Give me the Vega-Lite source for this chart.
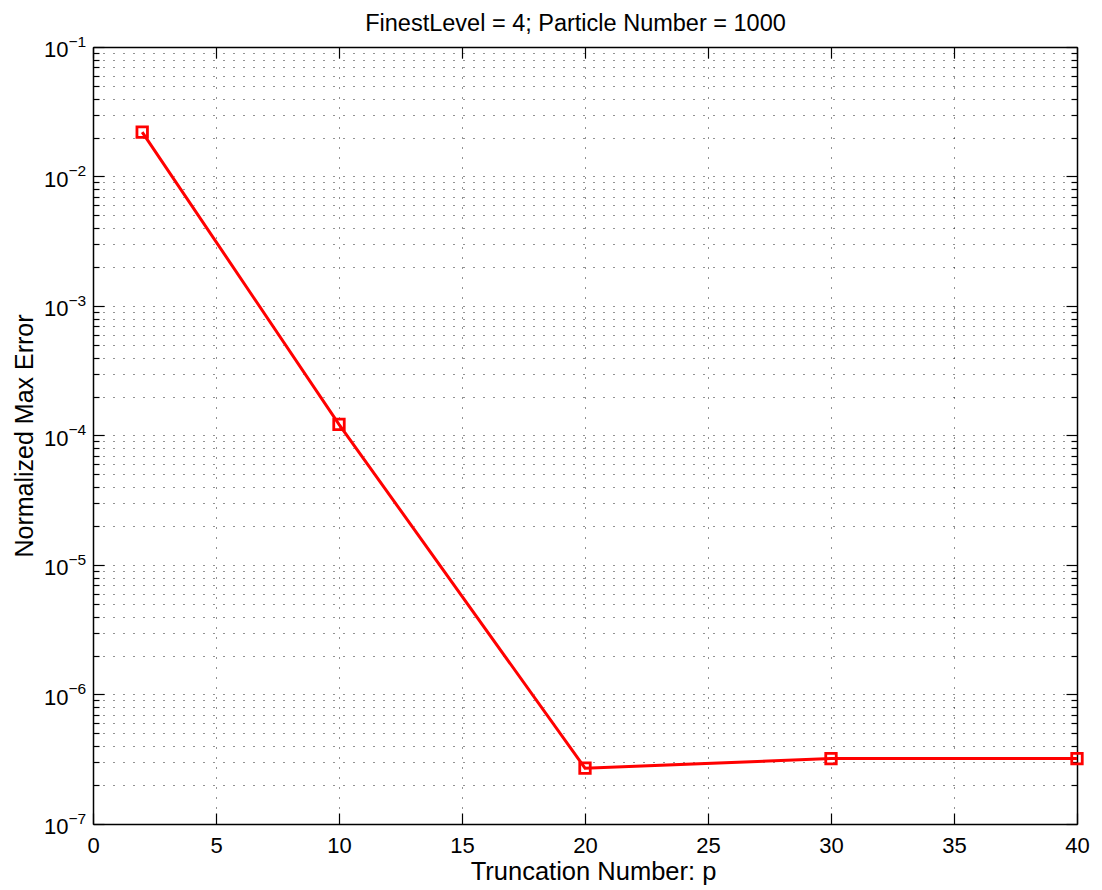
{
  "$schema": "https://vega.github.io/schema/vega-lite/v6.json",
  "autosize": "none",
  "padding": {"left": 93, "top": 47, "right": 25, "bottom": 66},
  "width": 984,
  "height": 777,
  "background": "white",
  "config": {
    "view": {"stroke": null},
    "font": "Liberation Sans",
    "axis": {
      "labelFont": "Liberation Sans",
      "titleFont": "Liberation Sans",
      "labelColor": "#000",
      "titleColor": "#000",
      "titleFontWeight": "normal",
      "domainColor": "#000",
      "domainWidth": 1.5,
      "tickColor": "#000",
      "tickWidth": 1.2,
      "gridColor": "#000",
      "gridDash": [1, 9],
      "gridWidth": 1,
      "gridOpacity": 0.85,
      "labelFlush": false,
      "labelOverlap": false,
      "labelBound": false,
      "labelFontSize": 22
    }
  },
  "data": {
    "values": [
      {"p": 2, "err": 0.022},
      {"p": 10, "err": 0.000122},
      {"p": 20, "err": 2.7e-7},
      {"p": 30, "err": 3.2e-7},
      {"p": 40, "err": 3.2e-7}
    ]
  },
  "resolve": {"axis": {"x": "independent", "y": "independent"}},
  "layer": [
    {
      "mark": {"type": "line", "color": "#ff0000", "strokeWidth": 3, "clip": false},
      "encoding": {
        "x": {
          "field": "p", "type": "quantitative",
          "scale": {"domain": [0, 40], "nice": false, "zero": false},
          "axis": {
            "orient": "bottom",
            "values": [0, 5, 10, 15, 20, 25, 30, 35, 40],
            "format": "d",
            "ticks": false, "grid": true, "domain": true,
            "labelFontSize": 22,
            "labelPadding": 11,
            "title": "Truncation Number: p",
            "titleFontSize": 25.5,
            "titleX": 500,
            "titlePadding": 3
          }
        },
        "y": {
          "field": "err", "type": "quantitative",
          "scale": {"type": "log", "domain": [1e-7, 0.1], "nice": false},
          "axis": {
            "orient": "left",
            "values": [1e-7, 2e-7, 3e-7, 4e-7, 5e-7, 6e-7, 7e-7, 8e-7, 9e-7,
                       1e-6, 2e-6, 3e-6, 4e-6, 5e-6, 6e-6, 7e-6, 8e-6, 9e-6,
                       1e-5, 2e-5, 3e-5, 4e-5, 5e-5, 6e-5, 7e-5, 8e-5, 9e-5,
                       1e-4, 2e-4, 3e-4, 4e-4, 5e-4, 6e-4, 7e-4, 8e-4, 9e-4,
                       0.001, 0.002, 0.003, 0.004, 0.005, 0.006, 0.007, 0.008, 0.009,
                       0.01, 0.02, 0.03, 0.04, 0.05, 0.06, 0.07, 0.08, 0.09, 0.1],
            "labelExpr": "abs(log(datum.value)/LN10 - round(log(datum.value)/LN10)) < 1e-6 ? '10' : ''",
            "ticks": false, "grid": true, "domain": true,
            "labelFontSize": 22,
            "labelPadding": 25,
            "labelOffset": 2.5,
            "title": "Normalized Max Error",
            "titleFontSize": 25,
            "titlePadding": 6
          }
        }
      }
    },
    {
      "mark": {"type": "point", "shape": "square", "filled": false, "color": "#ff0000", "strokeWidth": 2.8, "size": 110, "opacity": 1, "clip": false},
      "encoding": {
        "x": {
          "field": "p", "type": "quantitative",
          "scale": {"domain": [0, 40], "nice": false, "zero": false},
          "axis": {
            "orient": "bottom",
            "values": [0, 5, 10, 15, 20, 25, 30, 35, 40],
            "labels": false, "grid": false, "domain": false,
            "ticks": true, "tickSize": -11,
            "title": null
          }
        },
        "y": {
          "field": "err", "type": "quantitative",
          "scale": {"type": "log", "domain": [1e-7, 0.1], "nice": false},
          "axis": {
            "orient": "left",
            "values": [1e-7, 1e-6, 1e-5, 1e-4, 0.001, 0.01, 0.1],
            "labelExpr": "'−' + abs(round(log(datum.value)/LN10))",
            "ticks": false, "grid": false, "domain": false,
            "labelAlign": "left",
            "labelPadding": 25,
            "labelFontSize": 15.5,
            "labelOffset": -5.6,
            "title": null
          }
        }
      }
    },
    {
      "mark": {"type": "point", "opacity": 0},
      "encoding": {
        "x": {
          "field": "p", "type": "quantitative",
          "scale": {"domain": [0, 40], "nice": false, "zero": false},
          "axis": {
            "orient": "top",
            "values": [0, 5, 10, 15, 20, 25, 30, 35, 40],
            "labels": false, "grid": false, "domain": true,
            "ticks": true, "tickSize": -11,
            "title": "FinestLevel = 4; Particle Number = 1000",
            "titleFontSize": 23.5,
            "titleX": 482,
            "titleY": -17,
            "titleBaseline": "alphabetic",
            "titleAlign": "center"
          }
        },
        "y": {
          "field": "err", "type": "quantitative",
          "scale": {"type": "log", "domain": [1e-7, 0.1], "nice": false},
          "axis": {
            "orient": "left",
            "values": [1e-7, 2e-7, 3e-7, 4e-7, 5e-7, 6e-7, 7e-7, 8e-7, 9e-7,
                       1e-6, 2e-6, 3e-6, 4e-6, 5e-6, 6e-6, 7e-6, 8e-6, 9e-6,
                       1e-5, 2e-5, 3e-5, 4e-5, 5e-5, 6e-5, 7e-5, 8e-5, 9e-5,
                       1e-4, 2e-4, 3e-4, 4e-4, 5e-4, 6e-4, 7e-4, 8e-4, 9e-4,
                       0.001, 0.002, 0.003, 0.004, 0.005, 0.006, 0.007, 0.008, 0.009,
                       0.01, 0.02, 0.03, 0.04, 0.05, 0.06, 0.07, 0.08, 0.09, 0.1],
            "labels": false, "grid": false, "domain": false,
            "ticks": true,
            "tickSize": {"condition": {"test": "abs(log(datum.value)/LN10 - round(log(datum.value)/LN10)) < 1e-6", "value": -11}, "value": -6},
            "title": null
          }
        }
      }
    },
    {
      "mark": {"type": "point", "opacity": 0},
      "encoding": {
        "x": {
          "field": "p", "type": "quantitative",
          "scale": {"domain": [0, 40], "nice": false, "zero": false},
          "axis": null
        },
        "y": {
          "field": "err", "type": "quantitative",
          "scale": {"type": "log", "domain": [1e-7, 0.1], "nice": false},
          "axis": {
            "orient": "right",
            "values": [1e-7, 2e-7, 3e-7, 4e-7, 5e-7, 6e-7, 7e-7, 8e-7, 9e-7,
                       1e-6, 2e-6, 3e-6, 4e-6, 5e-6, 6e-6, 7e-6, 8e-6, 9e-6,
                       1e-5, 2e-5, 3e-5, 4e-5, 5e-5, 6e-5, 7e-5, 8e-5, 9e-5,
                       1e-4, 2e-4, 3e-4, 4e-4, 5e-4, 6e-4, 7e-4, 8e-4, 9e-4,
                       0.001, 0.002, 0.003, 0.004, 0.005, 0.006, 0.007, 0.008, 0.009,
                       0.01, 0.02, 0.03, 0.04, 0.05, 0.06, 0.07, 0.08, 0.09, 0.1],
            "labels": false, "grid": false, "domain": true,
            "ticks": true,
            "tickSize": {"condition": {"test": "abs(log(datum.value)/LN10 - round(log(datum.value)/LN10)) < 1e-6", "value": -11}, "value": -6},
            "title": null
          }
        }
      }
    }
  ]
}
